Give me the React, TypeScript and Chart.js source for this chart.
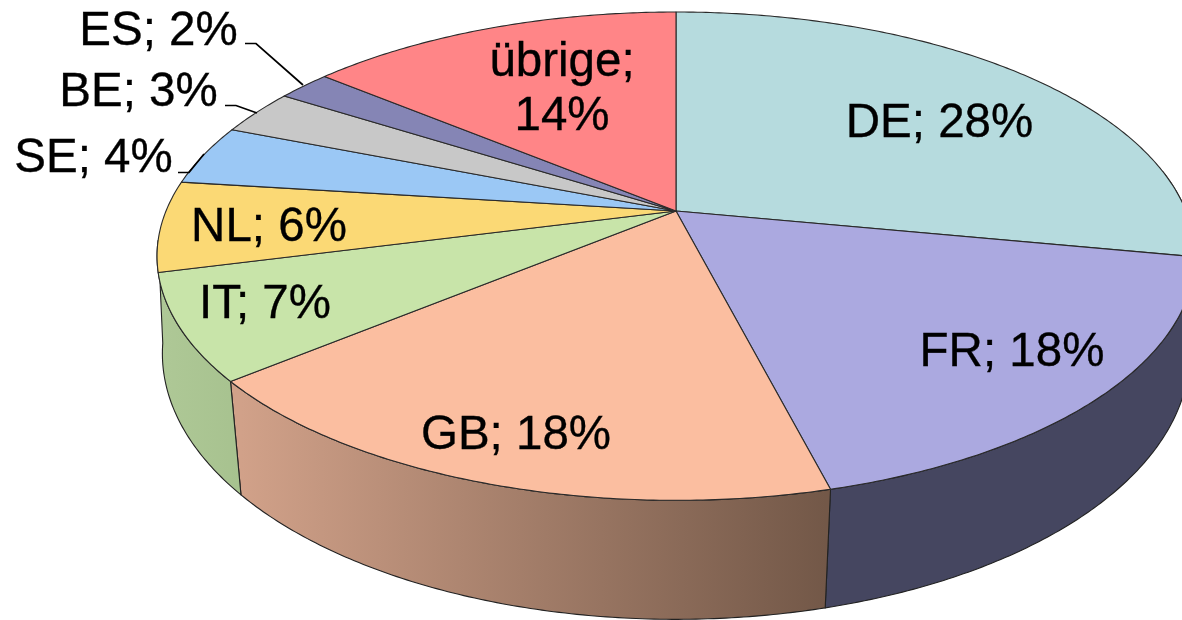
import React, { useEffect, useRef } from "react";
import { Chart, registerables } from "chart.js";

Chart.register(...registerables);

const categories = ["DE", "FR", "GB", "IT", "NL", "SE", "BE", "ES", "übrige"];
const shares = [28, 18, 18, 7, 6, 4, 3, 2, 14];
const topColors = ["#b6dbde", "#aba9e0", "#fbbea0", "#c8e4a9", "#fbd975", "#9bc8f5", "#c8c8c8", "#8585b5", "#ff8587"];
const wallLeft = ["#50666a", "#454660", "#d1a189", "#aec896"];
const wallRight = ["#50666a", "#454660", "#735848", "#a7c28f"];

// Layout of the labels: centre x, baseline y per line
const labelLayout = [
  { x: 939.5, y: [137] },
  { x: 1012, y: [366] },
  { x: 516, y: [449] },
  { x: 265, y: [318] },
  { x: 269, y: [241] },
  { x: 93.5, y: [172] },
  { x: 138.5, y: [106] },
  { x: 158.5, y: [45] },
  { x: 562, y: [76, 130] },
];
const leaders = [
  [[245, 43.5], [256, 43.5], [303, 85]],
  [[225, 105.5], [236, 105.5], [257, 113]],
  [[178, 172.5], [189, 172.5], [204, 154]],
];

const APEX = { x: 676, y: 211 };
const TOP = { x0: 676, y0: 211, rx: 510, ry: 235.8, p: 0.185 };
const BOTTOM = { x0: 676, y0: 311, rx: 507, ry: 259, p: 0.16 };
const toT = (a: number) => a + Math.PI / 2;

function project(t: number, d: typeof TOP) {
  const u = Math.sin(t);
  const v = Math.cos(t);
  const w = 1 + d.p * v;
  return { x: d.x0 + (d.rx * u) / w, y: d.y0 - (d.ry * v) / w };
}

function rim(ctx: CanvasRenderingContext2D, a: number, b: number, d: typeof TOP) {
  const n = Math.max(2, Math.ceil(Math.abs(b - a) / 0.01));
  for (let i = 0; i <= n; i++) {
    const p = project(a + ((b - a) * i) / n, d);
    ctx.lineTo(p.x, p.y);
  }
}

const perspectivePie = {
  id: "perspectivePie",
  beforeDatasetDraw(chart: any) {
    const ctx: CanvasRenderingContext2D = chart.ctx;
    const arcs = chart.getDatasetMeta(0).data;
    const lo = (80 * Math.PI) / 180;
    const fold = (263 * Math.PI) / 180; // where the wall turns round the left edge
    ctx.save();
    ctx.lineJoin = "round";
    // side wall: only the slices at the front show one, the last runs round the left edge
    wallLeft.forEach((_, i) => {
      const el = arcs[i];
      const last = i === wallLeft.length - 1;
      const a = Math.max(toT(el.startAngle), lo);
      const b = last ? fold : toT(el.endAngle);
      const pa = project(a, BOTTOM);
      const pb = project(b, BOTTOM);
      const g = ctx.createLinearGradient(Math.min(pa.x, pb.x), 0, Math.max(pa.x, pb.x), 0);
      g.addColorStop(0, wallLeft[i]);
      g.addColorStop(1, wallRight[i]);
      ctx.beginPath();
      rim(ctx, a, b, TOP);
      rim(ctx, b, a, BOTTOM);
      ctx.closePath();
      ctx.fillStyle = g;
      ctx.fill();
      ctx.strokeStyle = "#222222";
      ctx.lineWidth = 1.1;
      ctx.stroke();
    });
    // top face
    arcs.forEach((el: any, i: number) => {
      const a = toT(el.startAngle);
      const b = toT(el.endAngle);
      ctx.beginPath();
      ctx.moveTo(APEX.x, APEX.y);
      rim(ctx, a, b, TOP);
      ctx.closePath();
      ctx.fillStyle = topColors[i];
      ctx.fill();
      ctx.strokeStyle = "#2a2a2a";
      ctx.lineWidth = 1.1;
      ctx.stroke();
    });
    ctx.restore();
    return false;
  },
  afterDatasetsDraw(chart: any) {
    const ctx: CanvasRenderingContext2D = chart.ctx;
    ctx.save();
    ctx.strokeStyle = "#000000";
    ctx.lineWidth = 1.7;
    leaders.forEach((line) => {
      ctx.beginPath();
      line.forEach(([x, y], i) => (i ? ctx.lineTo(x, y) : ctx.moveTo(x, y)));
      ctx.stroke();
    });
    ctx.fillStyle = "#000000";
    ctx.strokeStyle = "#000000";
    ctx.lineWidth = 0.35;
    ctx.font = '47.5px "Liberation Sans", Arial, sans-serif';
    ctx.textAlign = "center";
    ctx.textBaseline = "alphabetic";
    categories.forEach((c, i) => {
      const pos = labelLayout[i];
      const lines = pos.y.length > 1 ? [`${c};`, `${shares[i]}%`] : [`${c}; ${shares[i]}%`];
      lines.forEach((t, k) => {
        ctx.fillText(t, pos.x, pos.y[k]);
        ctx.strokeText(t, pos.x, pos.y[k]);
      });
    });
    ctx.restore();
  },
};

export default function App() {
  const ref = useRef<HTMLCanvasElement>(null);
  useEffect(() => {
    document.body.style.margin = "0";
    document.body.style.background = "#ffffff";
    const chart = new Chart(ref.current as HTMLCanvasElement, {
      type: "pie",
      data: {
        labels: categories,
        datasets: [{ data: shares, backgroundColor: topColors, borderWidth: 0 }],
      },
      options: {
        animation: false,
        responsive: false,
        layout: { padding: 0 },
        plugins: { legend: { display: false }, tooltip: { enabled: false } },
      },
      plugins: [perspectivePie],
    } as any);
    return () => chart.destroy();
  }, []);
  return <canvas ref={ref} width={1182} height={620} style={{ display: "block", width: 1182, height: 620 }} />;
}
